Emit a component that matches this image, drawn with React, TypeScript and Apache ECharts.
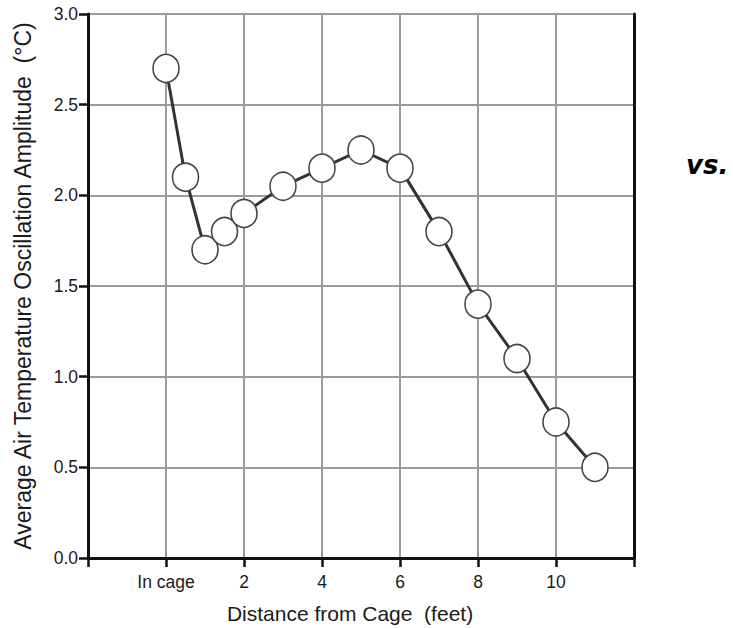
import React, { useEffect, useRef } from "react";
import * as echarts from "echarts";

const distances = [0, 0.5, 1, 1.5, 2, 3, 4, 5, 6, 7, 8, 9, 10, 11];
const amplitudes = [2.7, 2.1, 1.7, 1.8, 1.9, 2.05, 2.15, 2.25, 2.15, 1.8, 1.4, 1.1, 0.75, 0.5];
const xTickLabels: Record<number, string> = { 0: "In cage", 2: "2", 4: "4", 6: "6", 8: "8", 10: "10" };
const xAxisTitle = "Distance from Cage  (feet)";
const yAxisTitle = "Average Air Temperature Oscillation Amplitude  (°C)";
const sideText = "vs.";

export default function App() {
  const ref = useRef<HTMLDivElement>(null);
  useEffect(() => {
    if (!ref.current) return;
    const chart = echarts.init(ref.current, null, { renderer: "svg" });
    const font = "'Liberation Sans', Arial, Helvetica, sans-serif";
    chart.setOption({
      animation: false,
      backgroundColor: "#ffffff",
      grid: { left: 88, right: 99, top: 14, bottom: 69, containLabel: false },
      xAxis: {
        type: "value",
        min: -2,
        max: 12,
        interval: 2,
        name: xAxisTitle,
        nameLocation: "middle",
        nameGap: 45,
        nameTextStyle: { fontFamily: font, fontSize: 21, color: "#1a1a1a", padding: [0, 22, 0, 0] },
        axisLine: { show: true, onZero: false, lineStyle: { color: "#111", width: 3 } },
        axisTick: { show: true, length: 9, lineStyle: { color: "#111", width: 2.5 } },
        axisLabel: {
          fontFamily: font,
          fontSize: 17.5,
          color: "#1a1a1a",
          margin: 15,
          formatter: (v: number) => xTickLabels[v] ?? "",
        },
        splitLine: { show: true, lineStyle: { color: "#9a9a9a", width: 2 } },
      },
      yAxis: [
        {
          type: "value",
          min: 0,
          max: 3,
          interval: 0.5,
          name: yAxisTitle,
          nameLocation: "middle",
          nameGap: 54,
          nameTextStyle: { fontFamily: font, fontSize: 23, color: "#1a1a1a" },
          axisLine: { show: true, onZero: false, lineStyle: { color: "#111", width: 3 } },
          axisTick: { show: true, length: 9, lineStyle: { color: "#111", width: 2.5 } },
          axisLabel: {
            fontFamily: font,
            fontSize: 17.5,
            color: "#1a1a1a",
            margin: 10,
            formatter: (v: number) => v.toFixed(1),
          },
          splitLine: { show: true, lineStyle: { color: "#9a9a9a", width: 2 } },
        },
        {
          type: "value",
          min: 0,
          max: 3,
          interval: 0.5,
          position: "right",
          axisLine: { show: true, onZero: false, lineStyle: { color: "#111", width: 3 } },
          axisTick: { show: false },
          axisLabel: { show: false },
          splitLine: { show: false },
        },
      ],
      series: [
        {
          type: "line",
          yAxisIndex: 0,
          data: distances.map((d, i) => [d, amplitudes[i]]),
          symbol: "circle",
          symbolSize: [26, 28],
          lineStyle: { color: "#333", width: 3 },
          itemStyle: { color: "#ffffff", borderColor: "#444", borderWidth: 1.6 },
          z: 5,
        },
      ],
      graphic: [
        {
          type: "text",
          left: 686,
          top: 152,
          style: {
            text: sideText,
            font: "italic bold 26px 'DejaVu Sans', Verdana, sans-serif",
            fill: "#000",
          },
        },
      ],
    });
    return () => chart.dispose();
  }, []);
  return (
    <div
      ref={ref}
      style={{ position: "absolute", left: 0, top: 0, width: 733, height: 629 }}
    />
  );
}
